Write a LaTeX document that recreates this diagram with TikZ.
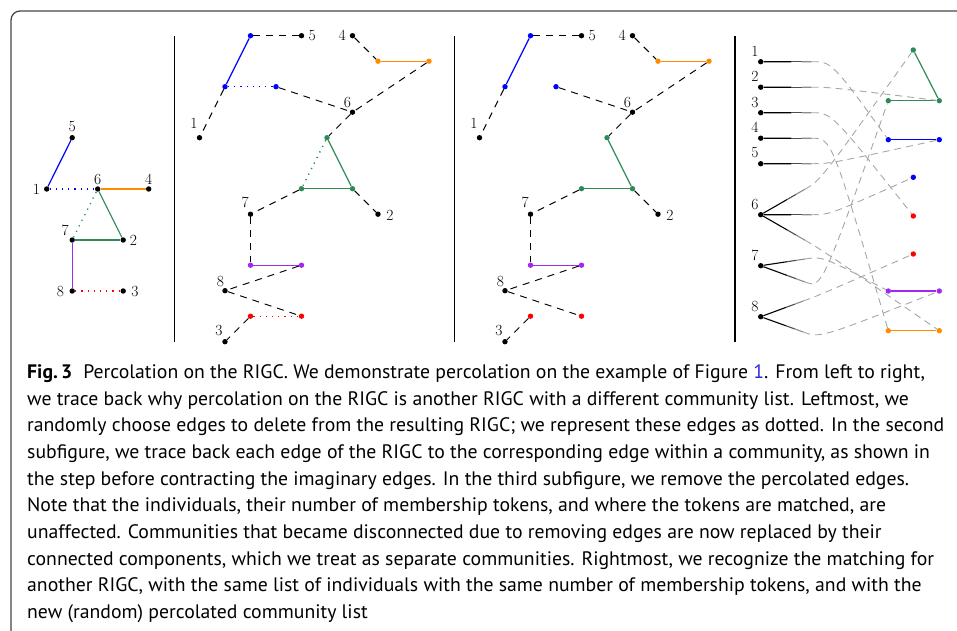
\documentclass[tikz,border=0pt]{standalone}
\usepackage{fontspec}
\newfontfamily\capfont{PT Sans}
\usetikzlibrary{calc}
\definecolor{cblue}{RGB}{0,0,255}
\definecolor{corange}{RGB}{255,140,0}
\definecolor{cgreen}{RGB}{46,139,87}
\definecolor{cpurple}{RGB}{160,40,240}
\definecolor{cred}{RGB}{255,0,0}
\definecolor{clink}{RGB}{40,40,220}
\definecolor{cframe}{RGB}{70,70,70}
\tikzset{
  dot/.style={circle,fill,inner sep=0pt,minimum size=5.4pt},
  lab/.style={font=\fontsize{15.5}{16}\selectfont,inner sep=0pt},
  comm/.style={line width=1.2pt},
  perc/.style={line width=1.4pt,dash pattern=on 1.2pt off 5pt},
  link/.style={line width=1pt,dash pattern=on 7pt off 6pt},
  match/.style={black!35,line width=0.9pt,dash pattern=on 7pt off 5pt},
  tok/.style={line width=1.1pt},
  sep/.style={line width=1.2pt},
  capline/.style={anchor=base west,inner sep=0pt,transform shape,xscale=1.012,font=\capfont\fontsize{19.5}{21}\selectfont}
}
\newcommand\drawpanel[2]{%
  \node[dot,fill=cblue] (bt#1) at (250.5,35.7) {};
  \node[dot] (n5#1) at (301.5,35.7) {};
  \node[dot] (n4#1) at (352.5,35.7) {};
  \node[dot,fill=corange] (oL#1) at (378,61.2) {};
  \node[dot,fill=corange] (oR#1) at (429,61.2) {};
  \node[dot,fill=cblue] (bM#1) at (225,86.7) {};
  \node[dot,fill=cblue] (bR#1) at (276,86.7) {};
  \node[dot] (n6#1) at (352.5,112.2) {};
  \node[dot] (n1#1) at (199.5,137.7) {};
  \node[dot,fill=cgreen] (gT#1) at (327,137.7) {};
  \node[dot,fill=cgreen] (gL#1) at (301.5,188.7) {};
  \node[dot,fill=cgreen] (gR#1) at (352.5,188.7) {};
  \node[dot] (n7#1) at (250.5,214.2) {};
  \node[dot] (n2#1) at (378,214.2) {};
  \node[dot,fill=cpurple] (pL#1) at (250.5,265.2) {};
  \node[dot,fill=cpurple] (pR#1) at (301.5,265.2) {};
  \node[dot] (n8#1) at (225,290.7) {};
  \node[dot,fill=cred] (rL#1) at (250.5,316.2) {};
  \node[dot,fill=cred] (rR#1) at (301.5,316.2) {};
  \node[dot] (n3#1) at (225,341.7) {};
  \node[lab] (l5#1) at ($(n5#1)+(10.7,0)$) {5};
  \node[lab] (l4#1) at ($(n4#1)+(-10.4,0)$) {4};
  \node[lab] (l6#1) at ($(n6#1)+(-5,-10)$) {6};
  \node[lab] (l1#1) at ($(n1#1)+(-5.5,-14)$) {1};
  \node[lab] (l7#1) at ($(n7#1)+(-5.4,-11.5)$) {7};
  \node[lab] (l2#1) at ($(n2#1)+(12,1)$) {2};
  \node[lab] (l8#1) at ($(n8#1)+(-4.5,-9.5)$) {8};
  \node[lab] (l3#1) at ($(n3#1)+(-6,-11)$) {3};
  \draw[link] (bt#1) -- (n5#1);
  \draw[comm,cblue] (bt#1) -- (bM#1);
  \draw[link] (bM#1) -- (n1#1);
  \draw[link] (bR#1) -- (n6#1);
  \draw[link] (n4#1) -- (oL#1);
  \draw[comm,corange] (oL#1) -- (oR#1);
  \draw[link] (oR#1) -- (n6#1);
  \draw[link] (n6#1) -- (gT#1);
  \draw[comm,cgreen] (gT#1) -- (gR#1);
  \draw[comm,cgreen] (gL#1) -- (gR#1);
  \draw[link] (gR#1) -- (n2#1);
  \draw[link] (gL#1) -- (n7#1);
  \draw[link] (n7#1) -- (pL#1);
  \draw[comm,cpurple] (pL#1) -- (pR#1);
  \draw[link] (pR#1) -- (n8#1);
  \draw[link] (n8#1) -- (rR#1);
  \draw[link] (rL#1) -- (n3#1);
  \ifnum#2=1
    \draw[perc,cblue] (bM#1) -- (bR#1);
    \draw[perc,cgreen] (gT#1) -- (gL#1);
    \draw[perc,cred] (rL#1) -- (rR#1);
  \fi
}
\newcommand\tokline[2]{%
  \draw[tok] (#1) -- ($(#1)!0.6!(#2)$);
  \draw[tok,black!70] ($(#1)!0.6!(#2)$) -- ($(#1)!0.8!(#2)$);
  \draw[tok,black!45] ($(#1)!0.8!(#2)$) -- (#2);
}
\begin{document}
\begin{tikzpicture}[x=1pt,y=-1pt]
\useasboundingbox (0,0) rectangle (957,630);
\clip (0,0) rectangle (957,630);
\draw[cframe,line width=1.3pt,rounded corners=9pt] (11,11) rectangle (1000,700);
% separators
\coordinate (s1t) at (174.5,36); \coordinate (s1b) at (174.5,342);
\coordinate (s2t) at (454.5,36); \coordinate (s2b) at (454.5,342);
\coordinate (s3t) at (735,36); \coordinate (s3b) at (735,342);
\draw[sep] (s1t) -- (s1b);
\draw[sep] (s2t) -- (s2b);
\draw[sep] (s3t) -- (s3b);
% panel 1
\node[dot] (a5) at (72.2,137.7) {};
\node[dot] (a1) at (46.7,189) {};
\node[dot] (a6) at (97.7,189) {};
\node[dot] (a4) at (148.7,189) {};
\node[dot] (a7) at (72.2,240) {};
\node[dot] (a2) at (123.2,240) {};
\node[dot] (a8) at (72.2,291) {};
\node[dot] (a3) at (123.2,291) {};
\node[lab] (la5) at (72.2,126.5) {5};
\node[lab] (la1) at (36.5,189) {1};
\node[lab] (la6) at (97.7,179.5) {6};
\node[lab] (la4) at (148.7,179.5) {4};
\node[lab] (la7) at (65.3,230) {7};
\node[lab] (la2) at (133.5,240) {2};
\node[lab] (la8) at (60.5,291) {8};
\node[lab] (la3) at (135,291) {3};
\draw[comm,cblue] (a5) -- (a1);
\draw[perc,cblue] (a1) -- (a6);
\draw[comm,corange] (a6) -- (a4);
\draw[comm,cgreen] (a6) -- (a2);
\draw[comm,cgreen] (a7) -- (a2);
\draw[perc,cgreen] (a7) -- (a6);
\draw[comm,cpurple] (a7) -- (a8);
\draw[perc,cred] (a8) -- (a3);
% panels 2 and 3
\drawpanel{b}{1}
\begin{scope}[xshift=280pt]
\drawpanel{c}{0}
\end{scope}
% panel 4: individuals
\foreach \k/\y in {1/61.7,2/87.2,3/112.7,4/138.2,5/163.7,6/214.7,7/265.7,8/316.7}{
  \node[dot] (i\k) at (760.7,\y) {};
  \node[lab] (li\k) at (755,\y-10.7) {\k};
}
\coordinate (t1) at (811.7,61.7);
\coordinate (t2) at (811.7,87.2);
\coordinate (t3) at (811.7,112.7);
\coordinate (t4) at (811.7,138.2);
\coordinate (t5) at (811.7,163.7);
\coordinate (t6a) at (805,189.2);
\coordinate (t6b) at (811.7,214.7);
\coordinate (t6c) at (805,240.2);
\coordinate (t7a) at (805,259);
\coordinate (t7b) at (805,282);
\coordinate (t8a) at (803.3,301);
\coordinate (t8b) at (803.3,332);
% communities
\node[dot,fill=cgreen] (dgT) at (913.3,50) {};
\node[dot,fill=cgreen] (dgL) at (888.3,100.7) {};
\node[dot,fill=cgreen] (dgR) at (939.3,100.7) {};
\node[dot,fill=cblue] (dbL) at (888.3,139.7) {};
\node[dot,fill=cblue] (dbR) at (939.3,139.7) {};
\node[dot,fill=cblue] (dbS) at (913.3,177.3) {};
\node[dot,fill=cred] (drA) at (913.3,216) {};
\node[dot,fill=cred] (drB) at (913.3,254) {};
\node[dot,fill=cpurple] (dpL) at (888.3,291) {};
\node[dot,fill=cpurple] (dpR) at (939.3,291) {};
\node[dot,fill=corange] (doL) at (888.3,330.7) {};
\node[dot,fill=corange] (doR) at (939.3,330.7) {};
\draw[comm,cgreen] (dgT) -- (dgR);
\draw[comm,cgreen] (dgL) -- (dgR);
\draw[comm,cblue] (dbL) -- (dbR);
\draw[comm,cpurple] (dpL) -- (dpR);
\draw[comm,corange] (doL) -- (doR);
\tokline{i1}{t1} \tokline{i2}{t2} \tokline{i3}{t3} \tokline{i4}{t4} \tokline{i5}{t5}
\tokline{i6}{t6a} \tokline{i6}{t6b} \tokline{i6}{t6c}
\tokline{i7}{t7a} \tokline{i7}{t7b}
\tokline{i8}{t8a} \tokline{i8}{t8b}
\draw[match] (t1) .. controls ($(t1)+(20,0)$) .. (dbL);
\draw[match] (t2) .. controls ($(t2)+(18,0)$) .. (dgR);
\draw[match] (t3) .. controls ($(t3)+(20,0)$) .. (drA);
\draw[match] (t4) .. controls ($(t4)+(20,0)$) .. (doL);
\draw[match] (t5) .. controls ($(t5)+(18,0)$) .. (dbR);
\draw[match] (t6a) .. controls ($(t6a)!-18pt!(i6)$) .. (dgT);
\draw[match] (t6b) .. controls ($(t6b)+(18,0)$) .. (dbS);
\draw[match] (t6c) .. controls ($(t6c)!-18pt!(i6)$) .. (doR);
\draw[match] (t7a) .. controls ($(t7a)!-18pt!(i7)$) .. (dpL);
\draw[match] (t7b) .. controls ($(t7b)!-18pt!(i7)$) .. (dgL);
\draw[match] (t8a) .. controls ($(t8a)!-18pt!(i8)$) .. (drB);
\draw[match] (t8b) .. controls ($(t8b)!-18pt!(i8)$) .. (dpR);
% caption
\node[capline] (c1) at (27,378.3) {\textbf{Fig.\,3}\hspace{0.55em}Percolation on the RIGC. We demonstrate percolation on the example of Figure \textcolor{clink}{1}. From left to right,};
\node[capline] (c2) at (27,405) {we trace back why percolation on the RIGC is another RIGC with a different community list. Leftmost, we};
\node[capline] (c3) at (27,431.6) {randomly choose edges to delete from the resulting RIGC; we represent these edges as dotted. In the second};
\node[capline] (c4) at (27,458.3) {subfigure, we trace back each edge of the RIGC to the corresponding edge within a community, as shown in};
\node[capline] (c5) at (27,485) {the step before contracting the imaginary edges. In the third subfigure, we remove the percolated edges.};
\node[capline] (c6) at (27,511.6) {Note that the individuals, their number of membership tokens, and where the tokens are matched, are};
\node[capline] (c7) at (27,538.3) {unaffected. Communities that became disconnected due to removing edges are now replaced by their};
\node[capline] (c8) at (27,565) {connected components, which we treat as separate communities. Rightmost, we recognize the matching for};
\node[capline] (c9) at (27,591.6) {another RIGC, with the same list of individuals with the same number of membership tokens, and with the};
\node[capline] (c10) at (27,618.3) {new (random) percolated community list};
\end{tikzpicture}
\end{document}
